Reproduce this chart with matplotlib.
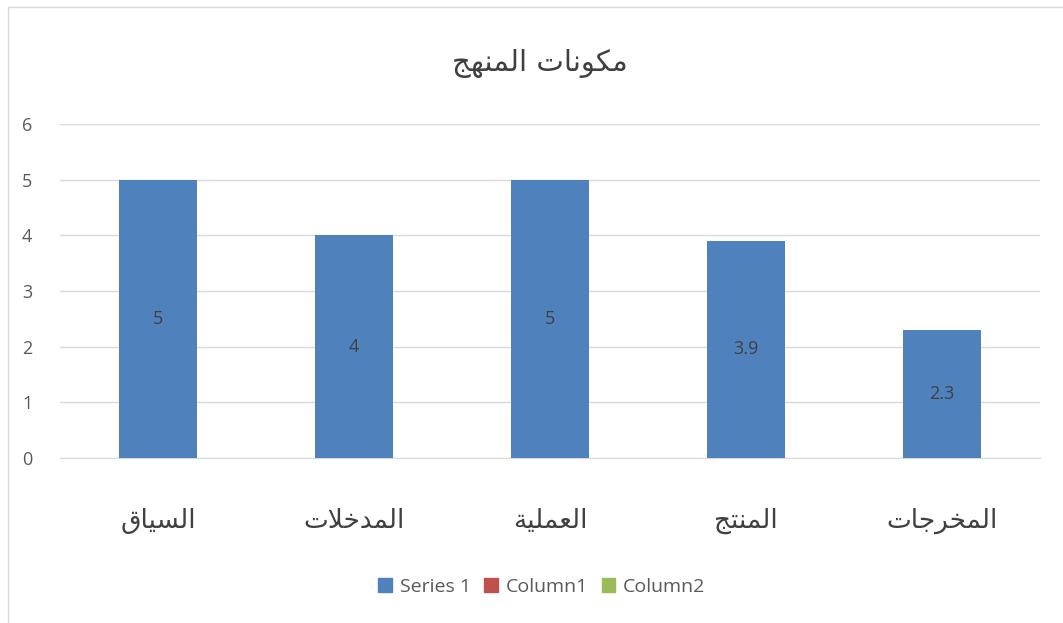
import matplotlib
matplotlib.use('Agg')
import matplotlib.pyplot as plt
from matplotlib.patches import Patch, Rectangle

# data
title = 'مكونات المنهج'
categories = ['السياق', 'المدخلات', 'العملية', 'المنتج', 'المخرجات']
series1 = [5, 4, 5, 3.9, 2.3]
legend_names = ['Series 1', 'Column1', 'Column2']
legend_colors = ['#4F81BD', '#C0504D', '#9BBB59']

# minimal arabic shaping: (isolated, final, initial, medial)
FORMS = {
    'ا': (0xFE8D, 0xFE8E, None, None),
    'ت': (0xFE95, 0xFE96, 0xFE97, 0xFE98),
    'ج': (0xFE9D, 0xFE9E, 0xFE9F, 0xFEA0),
    'خ': (0xFEA5, 0xFEA6, 0xFEA7, 0xFEA8),
    'د': (0xFEA9, 0xFEAA, None, None),
    'ر': (0xFEAD, 0xFEAE, None, None),
    'س': (0xFEB1, 0xFEB2, 0xFEB3, 0xFEB4),
    'ع': (0xFEC9, 0xFECA, 0xFECB, 0xFECC),
    'ق': (0xFED5, 0xFED6, 0xFED7, 0xFED8),
    'ك': (0xFED9, 0xFEDA, 0xFEDB, 0xFEDC),
    'ل': (0xFEDD, 0xFEDE, 0xFEDF, 0xFEE0),
    'م': (0xFEE1, 0xFEE2, 0xFEE3, 0xFEE4),
    'ن': (0xFEE5, 0xFEE6, 0xFEE7, 0xFEE8),
    'ه': (0xFEE9, 0xFEEA, 0xFEEB, 0xFEEC),
    'و': (0xFEED, 0xFEEE, None, None),
    'ي': (0xFEF1, 0xFEF2, 0xFEF3, 0xFEF4),
    'ة': (0xFE93, 0xFE94, None, None),
}


def dual(c):
    return c in FORMS and FORMS[c][2] is not None


def shape(text):
    out = []
    i = 0
    n = len(text)
    while i < n:
        c = text[i]
        if c not in FORMS:
            out.append(c)
            i += 1
            continue
        prev_join = i > 0 and dual(text[i - 1])
        if c == 'ل' and i + 1 < n and text[i + 1] == 'ا':
            out.append(chr(0xFEFC if prev_join else 0xFEFB))
            i += 2
            continue
        next_join = dual(c) and i + 1 < n and text[i + 1] in FORMS
        f = FORMS[c]
        if prev_join and next_join:
            g = f[3]
        elif prev_join:
            g = f[1]
        elif next_join:
            g = f[2]
        else:
            g = f[0]
        out.append(chr(g))
        i += 1
    return ''.join(out)[::-1]


plt.rcParams['font.family'] = ['Open Sans', 'DejaVu Sans']

fig = plt.figure(figsize=(10.63, 6.23), dpi=100)
fig.patches.append(Rectangle((8 / 1063, -0.1), 1.2, (623 - 7) / 623 + 0.1,
                             transform=fig.transFigure, fill=False,
                             edgecolor='#D9D9D9', linewidth=1.0))
ax = fig.add_axes([60 / 1063, 1 - 458 / 623, 980 / 1063, 334 / 623])

x = range(len(categories))
bars = ax.bar(x, series1, width=0.4, color='#4F81BD', zorder=3)
for xi, v in zip(x, series1):
    ax.text(xi, v / 2, f'{v:g}', ha='center', va='center', fontsize=13,
            color='#404040', zorder=4)

ax.set_xlim(-0.5, len(categories) - 0.5)
ax.set_ylim(0, 6)
ax.set_yticks(range(7))
ax.yaxis.grid(True, color='#D9D9D9', linewidth=1.0, zorder=0)
for s in ['top', 'right', 'left']:
    ax.spines[s].set_visible(False)
ax.spines['bottom'].set_color('#D9D9D9')
ax.tick_params(axis='y', length=0, labelsize=13, labelcolor='#595959', pad=20)
ax.tick_params(axis='x', length=0, pad=36)
ax.set_xticks(list(x))
ax.set_xticklabels([shape(c) for c in categories], fontsize=19,
                   family='DejaVu Sans', color='#404040')

fig.text(540 / 1063, 1 - 63 / 623, shape(title), ha='center', va='center',
         fontsize=21, family='DejaVu Sans', color='#404040')

handles = [Patch(color=c) for c in legend_colors]
fig.legend(handles, legend_names, loc='center', bbox_to_anchor=(542 / 1063, 1 - 587 / 623),
           ncol=3, frameon=False, fontsize=14, handlelength=0.7, handleheight=0.7,
           handletextpad=0.4, columnspacing=0.7, labelcolor='#595959')

fig.savefig('out.png', dpi=100, facecolor='white')
